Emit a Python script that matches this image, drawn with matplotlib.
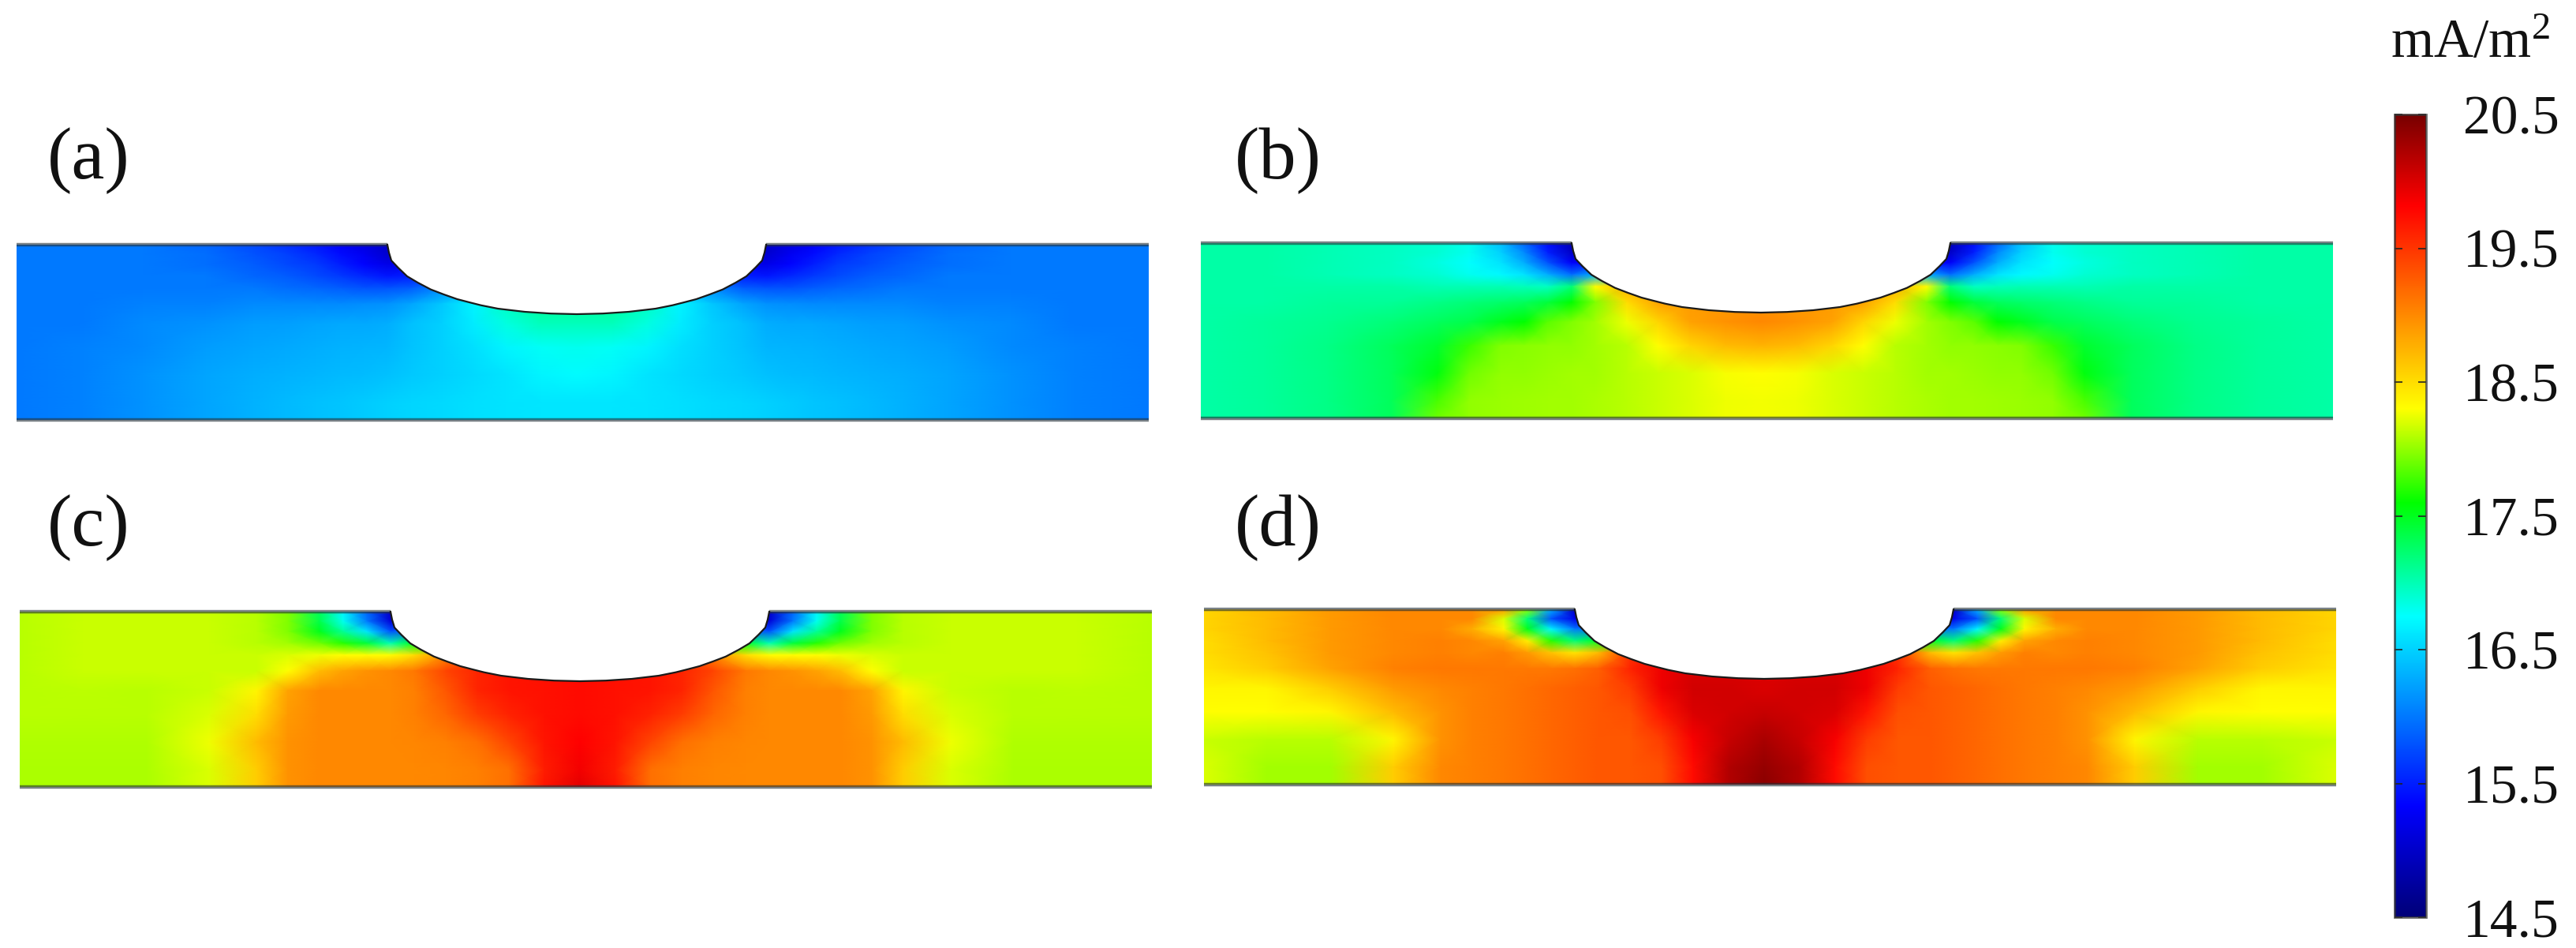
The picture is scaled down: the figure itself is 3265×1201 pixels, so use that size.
"""
Current density in a notched layer, four panels with a shared rainbow scale.
Field values are read off the picture on a coarse grid (left half, mA/m2),
the right half is the mirror image about the notch centre.
"""

import matplotlib.pyplot as plt
import numpy as np
from matplotlib.cm import ScalarMappable
from matplotlib.colors import LinearSegmentedColormap, Normalize
from matplotlib.path import Path
from matplotlib.patches import PathPatch

plt.rcParams.update({"font.family": ["Liberation Serif", "DejaVu Serif"],
                     "mathtext.default": "regular"})

FIG_W, FIG_H = 3266, 1201

# scale
V_MIN, V_MAX = 14.5, 20.5
CBAR_TICKS = [14.5, 15.5, 16.5, 17.5, 18.5, 19.5, 20.5]
CMAP_VALUES = [14.5, 15.33, 16.75, 17.6, 18.3, 19.82, 20.5]
CMAP_COLORS = ["#000078", "#0000ff", "#00ffff", "#00ff00", "#ffff00", "#ff0000", "#780000"]

# grid positions inside a panel, pixels from the left edge / from the top edge
COLS = np.array([0, 80, 160, 240, 300, 340, 380, 410, 440, 470, 500, 540, 580, 620, 665, 710])
ROWS = np.array([0, 12, 25, 40, 55, 75, 100, 130, 165, 200, 222])

# notch profile from the corner to the bottom: half width, depth
NOTCH_HALF = [240, 238, 235, 226.5, 215, 201.5, 185, 168.5, 151.5, 135, 121.5, 100, 66, 33, 0]
NOTCH_DEPTH = [0, 10, 20, 29, 40, 48, 56.7, 63, 69, 73.3, 76.7, 81, 85, 87.2, 88]

FIELD_A = [
    [16.0, 16.0, 16.0, 15.9, 15.75, 15.6, 15.45, 15.3, 15.15, 15.0, 15.0, 15.0, 15.0, 15.0, 15.0, 15.0],
    [16.0, 16.0, 16.0, 15.95, 15.8, 15.7, 15.55, 15.4, 15.25, 15.05, 15.1, 15.1, 15.1, 15.1, 15.1, 15.1],
    [16.0, 16.0, 16.0, 15.95, 15.85, 15.75, 15.65, 15.5, 15.35, 15.2, 15.25, 15.4, 15.4, 15.4, 15.4, 15.4],
    [16.0, 16.0, 16.0, 16.0, 15.9, 15.85, 15.75, 15.65, 15.55, 15.45, 15.5, 15.7, 15.8, 15.8, 15.8, 15.8],
    [16.0, 16.0, 16.0, 16.0, 16.0, 15.95, 15.9, 15.85, 15.8, 15.8, 15.85, 16.1, 16.3, 16.4, 16.5, 16.5],
    [16.0, 16.0, 16.05, 16.05, 16.1, 16.1, 16.1, 16.1, 16.12, 16.15, 16.25, 16.45, 16.7, 16.95, 17.1, 17.1],
    [16.0, 16.0, 16.1, 16.15, 16.2, 16.22, 16.25, 16.27, 16.28, 16.3, 16.4, 16.5, 16.65, 16.85, 16.98, 16.98],
    [16.0, 16.05, 16.1, 16.2, 16.25, 16.28, 16.3, 16.32, 16.33, 16.35, 16.42, 16.5, 16.58, 16.7, 16.78, 16.8],
    [16.0, 16.05, 16.15, 16.25, 16.3, 16.32, 16.35, 16.37, 16.38, 16.4, 16.45, 16.5, 16.55, 16.6, 16.7, 16.73],
    [16.0, 16.05, 16.15, 16.25, 16.32, 16.37, 16.4, 16.43, 16.46, 16.5, 16.52, 16.55, 16.58, 16.6, 16.62, 16.62],
    [16.0, 16.05, 16.15, 16.25, 16.32, 16.37, 16.4, 16.43, 16.46, 16.5, 16.52, 16.55, 16.58, 16.6, 16.62, 16.62],
]

FIELD_B = [
    [17.05, 17.05, 17.0, 16.95, 16.9, 16.8, 16.4, 15.9, 15.4, 14.9, 14.9, 14.9, 14.9, 14.9, 14.9, 14.9],
    [17.05, 17.05, 17.0, 16.95, 16.9, 16.8, 16.5, 16.1, 15.5, 15.0, 15.0, 15.0, 15.0, 15.0, 15.0, 15.0],
    [17.05, 17.05, 17.0, 16.95, 16.85, 16.75, 16.6, 16.3, 15.8, 15.3, 15.3, 15.3, 15.3, 15.3, 15.3, 15.3],
    [17.05, 17.05, 17.0, 16.95, 16.9, 16.8, 16.72, 16.6, 16.3, 15.95, 16.3, 16.3, 16.3, 16.3, 16.3, 16.3],
    [17.05, 17.05, 17.05, 17.05, 17.0, 17.0, 17.0, 16.98, 16.95, 17.2, 18.3, 18.8, 18.9, 18.9, 18.9, 18.9],
    [17.05, 17.05, 17.08, 17.1, 17.15, 17.2, 17.25, 17.3, 17.4, 17.6, 17.95, 18.5, 18.85, 18.9, 18.9, 18.95],
    [17.05, 17.08, 17.12, 17.2, 17.3, 17.35, 17.5, 17.6, 17.85, 17.95, 18.05, 18.25, 18.55, 18.85, 18.95, 19.0],
    [17.05, 17.08, 17.15, 17.3, 17.45, 17.75, 17.95, 17.97, 18.0, 18.0, 18.05, 18.1, 18.3, 18.55, 18.7, 18.75],
    [17.05, 17.08, 17.15, 17.3, 17.55, 17.9, 18.0, 18.0, 18.02, 18.05, 18.05, 18.1, 18.15, 18.2, 18.28, 18.3],
    [17.05, 17.08, 17.15, 17.3, 17.8, 18.0, 18.02, 18.03, 18.05, 18.05, 18.07, 18.1, 18.15, 18.2, 18.25, 18.27],
    [17.05, 17.08, 17.15, 17.3, 17.9, 18.0, 18.02, 18.03, 18.05, 18.05, 18.07, 18.1, 18.15, 18.2, 18.25, 18.27],
]

FIELD_C = [
    [18.1, 18.15, 18.15, 18.15, 18.1, 17.95, 17.3, 16.7, 15.9, 15.0, 15.0, 15.0, 15.0, 15.0, 15.0, 15.0],
    [18.1, 18.15, 18.15, 18.15, 18.1, 17.95, 17.35, 16.8, 16.0, 15.1, 15.1, 15.1, 15.1, 15.1, 15.1, 15.1],
    [18.1, 18.15, 18.15, 18.15, 18.1, 17.95, 17.5, 17.1, 16.6, 15.8, 16.0, 16.0, 16.0, 16.0, 16.0, 16.0],
    [18.1, 18.15, 18.15, 18.15, 18.1, 18.05, 17.9, 17.7, 17.4, 17.0, 17.5, 17.5, 17.5, 17.5, 17.5, 17.5],
    [18.1, 18.15, 18.15, 18.15, 18.15, 18.2, 18.25, 18.3, 18.3, 18.3, 18.5, 19.0, 19.4, 19.6, 19.7, 19.7],
    [18.1, 18.15, 18.15, 18.15, 18.15, 18.3, 18.7, 18.85, 18.95, 19.0, 19.1, 19.4, 19.6, 19.7, 19.72, 19.75],
    [18.1, 18.12, 18.1, 18.15, 18.35, 18.85, 19.0, 19.0, 19.0, 19.0, 19.05, 19.3, 19.6, 19.7, 19.72, 19.75],
    [18.1, 18.1, 18.1, 18.2, 18.5, 18.9, 19.0, 19.0, 19.0, 19.0, 19.05, 19.2, 19.45, 19.62, 19.72, 19.75],
    [18.08, 18.08, 18.08, 18.25, 18.7, 18.95, 19.0, 19.0, 19.0, 19.0, 19.02, 19.05, 19.15, 19.4, 19.7, 19.82],
    [18.07, 18.07, 18.07, 18.2, 18.6, 18.95, 19.0, 19.0, 19.0, 19.0, 19.0, 19.02, 19.05, 19.15, 19.65, 19.87],
    [18.07, 18.07, 18.07, 18.2, 18.6, 18.95, 19.0, 19.0, 19.0, 19.0, 19.0, 19.02, 19.05, 19.15, 19.7, 19.95],
]

FIELD_D = [
    [18.55, 18.7, 18.9, 19.0, 19.0, 19.0, 18.9, 18.0, 16.3, 15.0, 15.0, 15.0, 15.0, 15.0, 15.0, 15.0],
    [18.55, 18.7, 18.9, 19.0, 19.0, 19.0, 18.2, 17.2, 15.8, 15.2, 15.2, 15.2, 15.2, 15.2, 15.2, 15.2],
    [18.55, 18.7, 18.9, 19.0, 19.0, 18.8, 18.35, 17.5, 16.7, 16.0, 16.0, 16.0, 16.0, 16.0, 16.0, 16.0],
    [18.5, 18.7, 18.9, 19.0, 19.05, 19.0, 18.85, 18.4, 17.7, 17.2, 17.5, 17.5, 17.5, 17.5, 17.5, 17.5],
    [18.5, 18.65, 18.9, 19.0, 19.05, 19.0, 19.05, 18.9, 18.65, 18.45, 18.7, 19.5, 19.9, 20.0, 20.0, 20.0],
    [18.45, 18.6, 18.85, 19.05, 19.1, 19.1, 19.1, 19.1, 19.1, 19.15, 19.25, 19.6, 19.9, 20.0, 20.0, 20.0],
    [18.35, 18.35, 18.6, 18.9, 19.0, 19.05, 19.1, 19.15, 19.2, 19.25, 19.3, 19.45, 19.9, 20.05, 20.05, 20.0],
    [18.3, 18.3, 18.35, 18.7, 18.95, 19.05, 19.1, 19.15, 19.2, 19.25, 19.3, 19.35, 19.7, 20.0, 20.05, 20.1],
    [18.15, 18.1, 18.1, 18.35, 18.95, 19.05, 19.1, 19.15, 19.2, 19.25, 19.3, 19.3, 19.45, 19.85, 20.1, 20.25],
    [18.2, 18.05, 18.05, 18.6, 19.0, 19.05, 19.1, 19.15, 19.2, 19.25, 19.3, 19.3, 19.35, 19.75, 20.2, 20.35],
    [18.2, 18.05, 18.05, 18.6, 19.0, 19.05, 19.1, 19.15, 19.2, 19.25, 19.3, 19.3, 19.35, 19.75, 20.2, 20.4],
]

PANEL_FIELDS = [FIELD_A, FIELD_B, FIELD_C, FIELD_D]
PANEL_LABELS = ["(a)", "(b)", "(c)", "(d)"]
PANEL_LEFT = [21, 1522, 25, 1526]
PANEL_TOP = [310, 308, 775, 772]
LABEL_X = [60, 1565, 60, 1565]
LABEL_Y = [204, 204, 669, 669]

PANEL_W, PANEL_H = 1435, 222
NOTCH_X = 710

cmap = LinearSegmentedColormap.from_list(
    "rainbow_comsol",
    [((v - V_MIN) / (V_MAX - V_MIN), c) for v, c in zip(CMAP_VALUES, CMAP_COLORS)],
    N=512,
)
norm = Normalize(V_MIN, V_MAX)


def px_axes(fig, left, top, w, h):
    return fig.add_axes([left / FIG_W, 1 - (top + h) / FIG_H, w / FIG_W, h / FIG_H])


fig = plt.figure(figsize=(FIG_W / 100, FIG_H / 100), dpi=100)

# mirrored grid, the flat part on the right is a bit longer than on the left
xs = np.r_[COLS, 2 * NOTCH_X - COLS[-2::-1]].astype(float)
xs[-1] = PANEL_W

# outline of the top surface with the notch
half = np.array(NOTCH_HALF, dtype=float)
depth = np.array(NOTCH_DEPTH, dtype=float)
top_x = np.r_[0, NOTCH_X - half, NOTCH_X + half[-2::-1], PANEL_W]
top_y = np.r_[0, depth, depth[-2::-1], 0]

for field, left, top in zip(PANEL_FIELDS, PANEL_LEFT, PANEL_TOP):
    ax = px_axes(fig, left, top, PANEL_W, PANEL_H)
    z = np.array(field)
    z = np.hstack([z, z[:, -2::-1]])
    mesh = ax.pcolormesh(xs, ROWS, z, cmap=cmap, norm=norm, shading="gouraud")
    outline = np.c_[np.r_[top_x, PANEL_W, 0], np.r_[top_y, PANEL_H, PANEL_H]]
    clip = PathPatch(Path(np.vstack([outline, outline[0]])), transform=ax.transData)
    mesh.set_clip_path(clip)
    ax.set_xlim(0, PANEL_W)
    ax.set_ylim(PANEL_H, 0)
    ax.axis("off")
    # surface lines: translucent dark on flat parts, thin black along the notch
    flat = {"color": "#26333a", "alpha": 0.62, "lw": 3.2, "solid_capstyle": "butt", "clip_on": False}
    ax.plot([0, NOTCH_X - half[0]], [0, 0], **flat)
    ax.plot([NOTCH_X + half[0], PANEL_W], [0, 0], **flat)
    ax.plot([0, PANEL_W], [PANEL_H, PANEL_H], **flat)
    ax.plot(top_x[1:-1], top_y[1:-1], color="#1a1a1a", lw=1.6, clip_on=False)

for label, x, y in zip(PANEL_LABELS, LABEL_X, LABEL_Y):
    fig.text(x / FIG_W, 1 - y / FIG_H, label, fontsize=68, va="center", ha="left", color="#111111")

# colour bar
cax = px_axes(fig, 3035, 145, 40, 1017)
cb = fig.colorbar(ScalarMappable(norm=norm, cmap=cmap), cax=cax, ticks=CBAR_TICKS)
cb.ax.set_yticklabels([f"{t:.1f}" for t in CBAR_TICKS], fontsize=50, color="#111111")
cb.ax.tick_params(axis="y", direction="in", left=True, right=True, length=7, width=1.2,
                  color="#222222", pad=34)
cb.outline.set_edgecolor("#333333")
cb.outline.set_alpha(0.75)
cb.outline.set_linewidth(2.0)
fig.text(3030 / FIG_W, 1 - 73 / FIG_H, r"mA/m$^{2}$", fontsize=50, va="baseline", ha="left", color="#111111")

fig.savefig("out.png", dpi=100, facecolor="white")
